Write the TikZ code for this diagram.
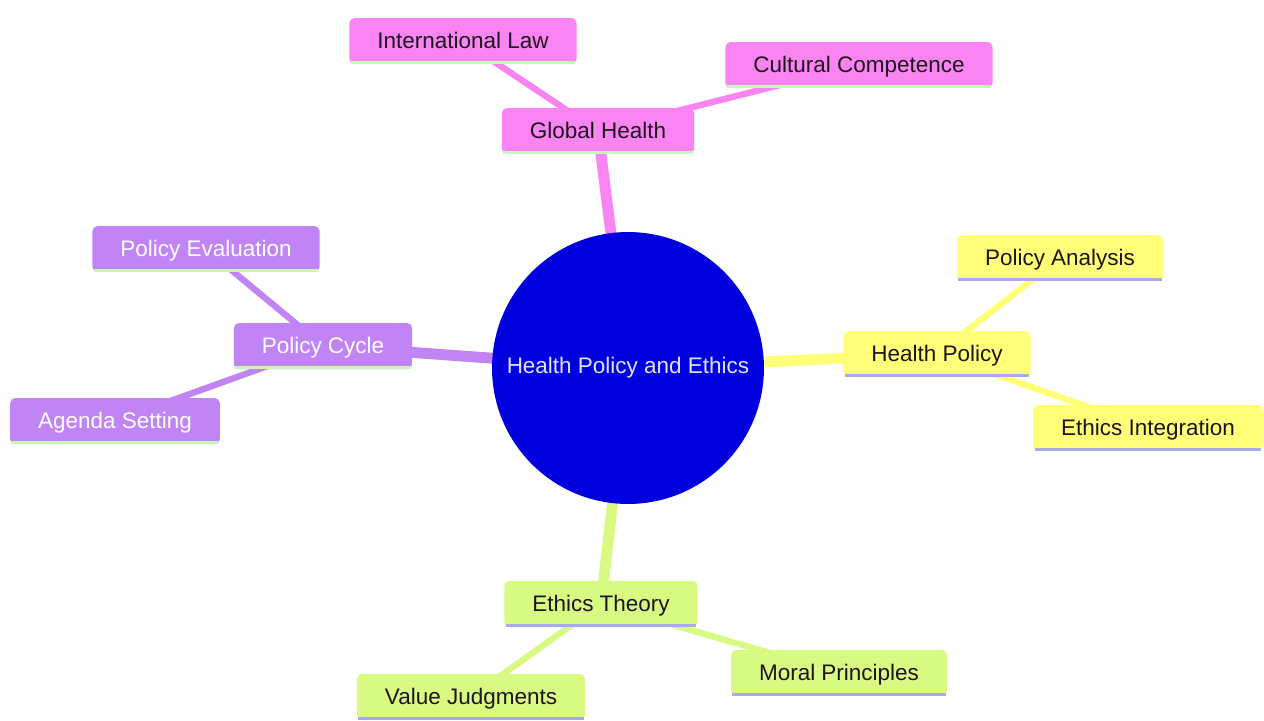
\documentclass[tikz,border=0pt]{standalone}
\usepackage{fontspec}
\setmainfont{Liberation Sans}
\pgfdeclarelayer{bg}
\pgfsetlayers{bg,main}
\begin{document}
\begin{tikzpicture}[x=0.02cm,y=-0.02cm,
  every node/.style={font=\fontsize{12.8pt}{15pt}\selectfont},
  box/.style={rounded corners=3pt, inner xsep=0.56cm, inner ysep=0pt, minimum height=0.92cm, text height=10.2pt, text depth=1.4pt},
  pinkbox/.style={box, fill=pinkc, text=textdark},
  yellowbox/.style={box, fill=yellowc, text=textdark},
  greenbox/.style={box, fill=greenc, text=textdark},
  purplebox/.style={box, fill=purplec, text=white},
  edgeone/.style={line width=6.2pt},
  edgetwo/.style={line width=3.6pt},
  baseline/.style={line width=2pt}
]
\definecolor{pinkc}{RGB}{249,132,242}
\definecolor{yellowc}{RGB}{255,255,120}
\definecolor{greenc}{RGB}{216,250,130}
\definecolor{purplec}{RGB}{192,132,245}
\definecolor{textdark}{RGB}{30,20,30}
\definecolor{centerc}{RGB}{0,0,222}
\definecolor{linegreen}{RGB}{200,245,190}
\definecolor{linelav}{RGB}{170,170,235}

\useasboundingbox (0,0) rectangle (1264,720);

% nodes
\node[circle, fill=centerc, minimum size=5.44cm, inner sep=0pt, text={rgb,255:red,225;green,225;blue,255}] (root) at (628,368) {Health Policy and Ethics};

\node[pinkbox] (gh) at (598,131) {Global Health};
\node[pinkbox] (il) at (463,41) {International Law};
\node[pinkbox] (cc) at (859,65) {Cultural Competence};

\node[yellowbox] (hp) at (937,354) {Health Policy};
\node[yellowbox] (pa) at (1060,258) {Policy Analysis};
\node[yellowbox] (ei) at (1148,428) {Ethics Integration};

\node[purplebox] (pc) at (323,346) {Policy Cycle};
\node[purplebox] (pe) at (206,249) {Policy Evaluation};
\node[purplebox] (as) at (115,421) {Agenda Setting};

\node[greenbox] (et) at (601,604) {Ethics Theory};
\node[greenbox] (vj) at (471,697) {Value Judgments};
\node[greenbox] (mp) at (839,673) {Moral Principles};

% connectors (behind nodes)
\begin{pgfonlayer}{bg}
\fill[white] (0,0) rectangle (1264,720);
\draw[edgeone, pinkc] (root.center) -- (gh.center);
\draw[edgeone, yellowc] (root.center) -- (hp.center);
\draw[edgeone, purplec] (root.center) -- (pc.center);
\draw[edgeone, greenc] (root.center) -- (et.center);
\draw[edgetwo, pinkc] (gh.center) -- (il.center);
\draw[edgetwo, pinkc] (gh.center) -- (cc.center);
\draw[edgetwo, yellowc] (hp.center) -- (pa.center);
\draw[edgetwo, yellowc] (hp.center) -- (ei.center);
\draw[edgetwo, purplec] (pc.center) -- (pe.center);
\draw[edgetwo, purplec] (pc.center) -- (as.center);
\draw[edgetwo, greenc] (et.center) -- (vj.center);
\draw[edgetwo, greenc] (et.center) -- (mp.center);
\end{pgfonlayer}

% bottom lines of boxes
\foreach \n in {gh,il,cc,pc,pe,as}
  \draw[baseline, linegreen] ([xshift=1pt,yshift=1pt]\n.south west) -- ([xshift=-1pt,yshift=1pt]\n.south east);
\foreach \n in {hp,pa,ei,et,vj,mp}
  \draw[baseline, linelav] ([xshift=1pt,yshift=1pt]\n.south west) -- ([xshift=-1pt,yshift=1pt]\n.south east);
\end{tikzpicture}
\end{document}
